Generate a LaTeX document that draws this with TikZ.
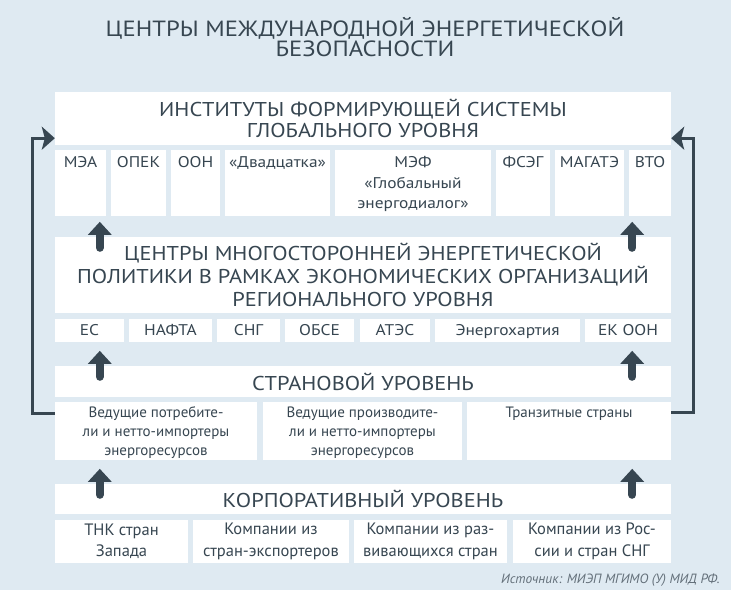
\documentclass[tikz,border=0pt]{standalone}
\usepackage{fontspec}
\setmainfont{PT Sans}
\newfontfamily\widefont{PT Sans}[FakeStretch=1.12]
\usepackage{xcolor}
\usetikzlibrary{arrows.meta}
\definecolor{bgblue}{RGB}{223,234,242}
\definecolor{slate}{RGB}{55,70,81}
\definecolor{srcgrey}{RGB}{100,112,122}

\begin{document}
\begin{tikzpicture}[x=1pt,y=-1pt]
\tikzstyle{cell}=[fill=white,inner sep=0pt,text=slate,align=center]
\tikzstyle{head}=[cell,font=\widefont\fontsize{20}{21.5}\selectfont]
\tikzstyle{small}=[text=slate,inner sep=0pt,align=center,anchor=north,font=\widefont\fontsize{15.5}{20.8}\selectfont]
\tikzstyle{tag}=[cell,minimum height=23pt,text height=11pt,text depth=2pt,font=\widefont\fontsize{15.5}{18}\selectfont]
\tikzstyle{firm}=[cell,minimum height=43pt,font=\fontsize{16.5}{21.5}\selectfont]
\tikzstyle{uparrow}=[slate,line width=8pt,line cap=round,-{Triangle[width=23pt,length=13pt]}]
\tikzstyle{loop}=[slate,line width=3pt,-{Stealth[width=23pt,length=13pt,inset=3pt]}]

\fill[bgblue] (0,0) rectangle (731,590);
\useasboundingbox (0,0) rectangle (731,590);

\node[text=slate,align=center,inner sep=0pt,font=\widefont\fontsize{22}{20}\selectfont](title) at (365,37){ЦЕНТРЫ МЕЖДУНАРОДНОЙ ЭНЕРГЕТИЧЕСКОЙ\\БЕЗОПАСНОСТИ};

% global level
\node[head,minimum width=616pt,minimum height=53pt](gh) at (363,118.5){ИНСТИТУТЫ ФОРМИРУЮЩЕЙ СИСТЕМЫ\\ГЛОБАЛЬНОГО УРОВНЯ};
\node[cell,minimum width=51pt,minimum height=66pt](g1) at (80.5,183){};
\node[cell,minimum width=55pt,minimum height=66pt](g2) at (138.5,183){};
\node[cell,minimum width=49pt,minimum height=66pt](g3) at (195.5,183){};
\node[cell,minimum width=105pt,minimum height=66pt](g4) at (277.5,183){};
\node[cell,minimum width=156pt,minimum height=66pt](g5) at (413,183){};
\node[cell,minimum width=54pt,minimum height=66pt](g6) at (523,183){};
\node[cell,minimum width=69pt,minimum height=66pt](g7) at (589.5,183){};
\node[cell,minimum width=42pt,minimum height=66pt](g8) at (650,183){};
\node[small](g1t) at (80.5,156){МЭА};
\node[small](g2t) at (138.5,156){ОПЕК};
\node[small](g3t) at (195.5,156){ООН};
\node[small](g4t) at (277.5,156){«Двадцатка»};
\node[small](g5t) at (413,156){МЭФ\\«Глобальный\\энергодиалог»};
\node[small](g6t) at (523,156){ФСЭГ};
\node[small](g7t) at (589.5,156){МАГАТЭ};
\node[small](g8t) at (650,156){ВТО};

% regional level
\node[head,minimum width=616pt,minimum height=76pt,font=\widefont\fontsize{20}{22.8}\selectfont](rh) at (363,275){ЦЕНТРЫ МНОГОСТОРОННЕЙ ЭНЕРГЕТИЧЕСКОЙ\\ПОЛИТИКИ В РАМКАХ ЭКОНОМИЧЕСКИХ ОРГАНИЗАЦИЙ\\РЕГИОНАЛЬНОГО УРОВНЯ};
\node[tag,minimum width=69pt](r1) at (89.5,330.5){ЕС};
\node[tag,minimum width=83pt](r2) at (170.5,330.5){НАФТА};
\node[tag,minimum width=63pt](r3) at (248.5,330.5){СНГ};
\node[tag,minimum width=69pt](r4) at (319.5,330.5){ОБСЕ};
\node[tag,minimum width=70pt](r5) at (395,330.5){АТЭС};
\node[tag,minimum width=145pt](r6) at (507.5,330.5){Энергохартия};
\node[tag,minimum width=86pt](r7) at (628,330.5){ЕК ООН};

% country level
\node[head,minimum width=616pt,minimum height=31pt](sh) at (363,381.5){СТРАНОВОЙ УРОВЕНЬ};
\node[cell,minimum width=202pt,minimum height=58pt](s1) at (156,431){};
\node[cell,minimum width=199pt,minimum height=58pt](s2) at (362.5,431){};
\node[cell,minimum width=204pt,minimum height=58pt](s3) at (569,431){};
\node[small,font=\fontsize{15}{19}\selectfont](s1t) at (156,406.5){Ведущие потребите-\\ли и нетто-импортеры\\энергоресурсов};
\node[small,font=\fontsize{15}{19}\selectfont](s2t) at (362.5,406.5){Ведущие производите-\\ли и нетто-импортеры\\энергоресурсов};
\node[small,font=\fontsize{15}{19}\selectfont](s3t) at (569,406.5){Транзитные страны};

% corporate level
\node[head,minimum width=616pt,minimum height=30pt](kh) at (363,499){КОРПОРАТИВНЫЙ УРОВЕНЬ};
\node[firm,minimum width=133pt](k1) at (121.5,541.5){ТНК стран\\Запада};
\node[firm,minimum width=156pt](k2) at (271,541.5){Компании из\\стран-экспортеров};
\node[firm,minimum width=153pt](k3) at (430.5,541.5){Компании из раз-\\вивающихся стран};
\node[firm,minimum width=158pt](k4) at (592,541.5){Компании из Рос-\\сии и стран СНГ};

\node[anchor=base east,inner sep=0pt,text=srcgrey,font=\itshape\fontsize{13.4}{15}\selectfont](src) at (720,583){Источник: МИЭП МГИМО (У) МИД РФ.};

% arrows
\draw[uparrow] ([xshift=45pt,yshift=-11pt]rh.north west) -- ([xshift=45pt,yshift=15pt]rh.north west);
\draw[uparrow] ([xshift=-39pt,yshift=-11pt]rh.north east) -- ([xshift=-39pt,yshift=15pt]rh.north east);
\draw[uparrow] ([xshift=45pt,yshift=-11pt]sh.north west) -- ([xshift=45pt,yshift=15pt]sh.north west);
\draw[uparrow] ([xshift=-39pt,yshift=-11pt]sh.north east) -- ([xshift=-39pt,yshift=15pt]sh.north east);
\draw[uparrow] ([xshift=45pt,yshift=-11pt]kh.north west) -- ([xshift=45pt,yshift=15pt]kh.north west);
\draw[uparrow] ([xshift=-39pt,yshift=-11pt]kh.north east) -- ([xshift=-39pt,yshift=15pt]kh.north east);

\draw[loop] ([yshift=-12pt]s1.north west) -- ++(-22,0) |- ([yshift=7pt]gh.south west);
\draw[loop] ([yshift=-11pt]s3.north east) -- ++(22,0) |- ([yshift=7pt]gh.south east);
\end{tikzpicture}
\end{document}
